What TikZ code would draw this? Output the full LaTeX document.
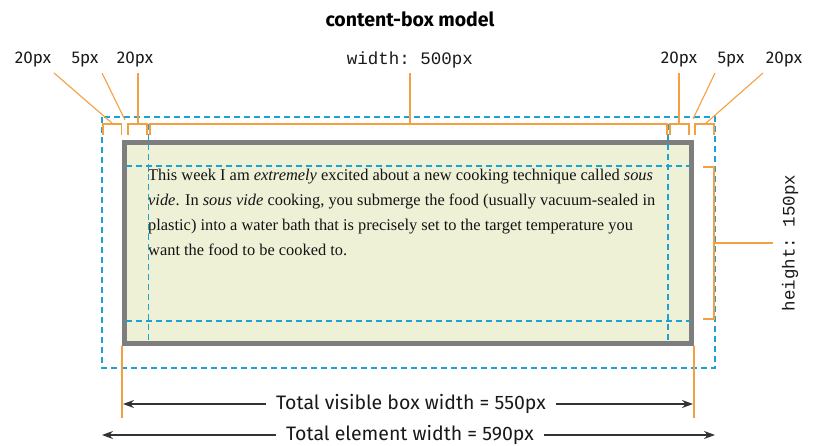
\documentclass[tikz,border=0pt]{standalone}
\usepackage{fontspec}
\setmainfont{Liberation Serif}
\setsansfont{Fira Sans}
\setmonofont{Liberation Mono}
\usetikzlibrary{arrows.meta}
\definecolor{dimor}{HTML}{F5A040}
\definecolor{guideblue}{HTML}{1DA3D3}
\definecolor{bordergray}{HTML}{7E7E7E}
\definecolor{boxfill}{HTML}{EEF1D6}
\definecolor{arrowgray}{HTML}{333333}
\tikzset{
  dimline/.style={draw=dimor, line width=1.4pt},
  ptr/.style={draw=dimor, line width=1.1pt},
  guide/.style={draw=guideblue, line width=1.1pt, dash pattern=on 6pt off 4pt},
  lbl/.style={font=\sffamily\fontsize{17}{20}\selectfont, inner sep=0pt, text=black!90},
  biglbl/.style={font=\sffamily\fontsize{19.5}{22}\selectfont, inner sep=0pt, text=black!90},
  monolbl/.style={font=\ttfamily\fontsize{17.5}{20}\selectfont, inner sep=0pt, text=black!90},
  totarrow/.style={draw=arrowgray, line width=1.2pt, -{Stealth[length=11pt,width=8pt]}},
}
\begin{document}
\begin{tikzpicture}[x=1pt,y=-1pt]
\useasboundingbox (0,0) rectangle (814,446);

% title
\node[font=\sffamily\bfseries\fontsize{19.5}{22}\selectfont, inner sep=0pt] (title) at (410,19) {content-box model};

% border box
\path[fill=boxfill, draw=bordergray, line width=5pt] (124.5,142.5) rectangle (691.5,343.5);

% content text
\node[anchor=north west, inner sep=0pt, align=left, text=black!92,
      font=\rmfamily\fontsize{16.4}{25}\selectfont] (body) at (148,168.5)
{This week I am \textit{extremely} excited about a new cooking technique called \textit{sous}\\
\textit{vide}. In \textit{sous vide} cooking, you submerge the food (usually vacuum-sealed in\\
plastic) into a water bath that is precisely set to the target temperature you\\
want the food to be cooked to.};

% margin box (outer dashed)
\draw[guide] (102,117) rectangle (715,368);
% padding guides
\draw[guide] (126,166) -- (690,166);
\draw[guide] (126,321) -- (690,321);
\draw[guide] (148.5,124) -- (148.5,342);
\draw[guide] (668,124) -- (668,342);

% top labels
\node[lbl] (lm) at (33,60) {20px};
\node[lbl] (lb) at (85,60) {5px};
\node[lbl] (lp) at (135,60) {20px};
\node[monolbl] (wl) at (410,60) {width: 500px};
\node[lbl] (rp) at (679,60) {20px};
\node[lbl] (rb) at (731,60) {5px};
\node[lbl] (rm) at (784,60) {20px};

% brackets
\draw[dimline] (103,135) -- (103,124) -- (121.5,124) -- (121.5,135);
\draw[dimline] (128,135) -- (128,124) -- (147,124) -- (147,135);
\draw[dimline] (150,135) -- (150,124) -- (667,124) -- (667,135);
\draw[dimline] (670,135) -- (670,124) -- (689,124) -- (689,135);
\draw[dimline] (695,135) -- (695,124) -- (714,124) -- (714,135);

\coordinate (lmT) at (113,124);
\coordinate (lbT) at (125,120);
\coordinate (lpT) at (138,124);
\coordinate (wT) at (410,124);
\coordinate (rpT) at (679,124);
\coordinate (rbT) at (693,119);
\coordinate (rmT) at (705,124);

\draw[ptr] (54,73) -- (lmT);
\draw[ptr] (102,73) -- (lbT);
\draw[ptr] (lpT |- 0,73) -- (lpT);
\draw[ptr] (wl.south |- 0,73) -- (wT);
\draw[ptr] (rpT |- 0,73) -- (rpT);
\draw[ptr] (715,73) -- (rbT);
\draw[ptr] (763,73) -- (rmT);

% height bracket
\draw[dimline] (703,167) -- (714,167) -- (714,319) -- (703,319);
\coordinate (hmid) at (714,243);
\node[monolbl, rotate=90] (hl) at (790,243) {height: 150px};
\draw[dimline] (hmid) -- (773,243);

% bottom extension lines
\coordinate (vl) at (122,418);
\coordinate (vr) at (694,418);
\draw[dimline] (122,346) -- (vl);
\draw[dimline] (694,346) -- (vr);

% total widths
\node[biglbl] (vis) at (411,404) {Total visible box width = 550px};
\node[biglbl] (ele) at (410,434.5) {Total element width = 590px};
\coordinate (visL) at (123,404);
\coordinate (visR) at (693,404);
\coordinate (eleL) at (102,435);
\coordinate (eleR) at (715,435);
\draw[totarrow] ([xshift=-10pt]vis.west) -- (visL);
\draw[totarrow] ([xshift=10pt]vis.east) -- (visR);
\draw[totarrow] ([xshift=-10pt]ele.west |- eleL) -- (eleL);
\draw[totarrow] ([xshift=10pt]ele.east |- eleR) -- (eleR);
\end{tikzpicture}
\end{document}
